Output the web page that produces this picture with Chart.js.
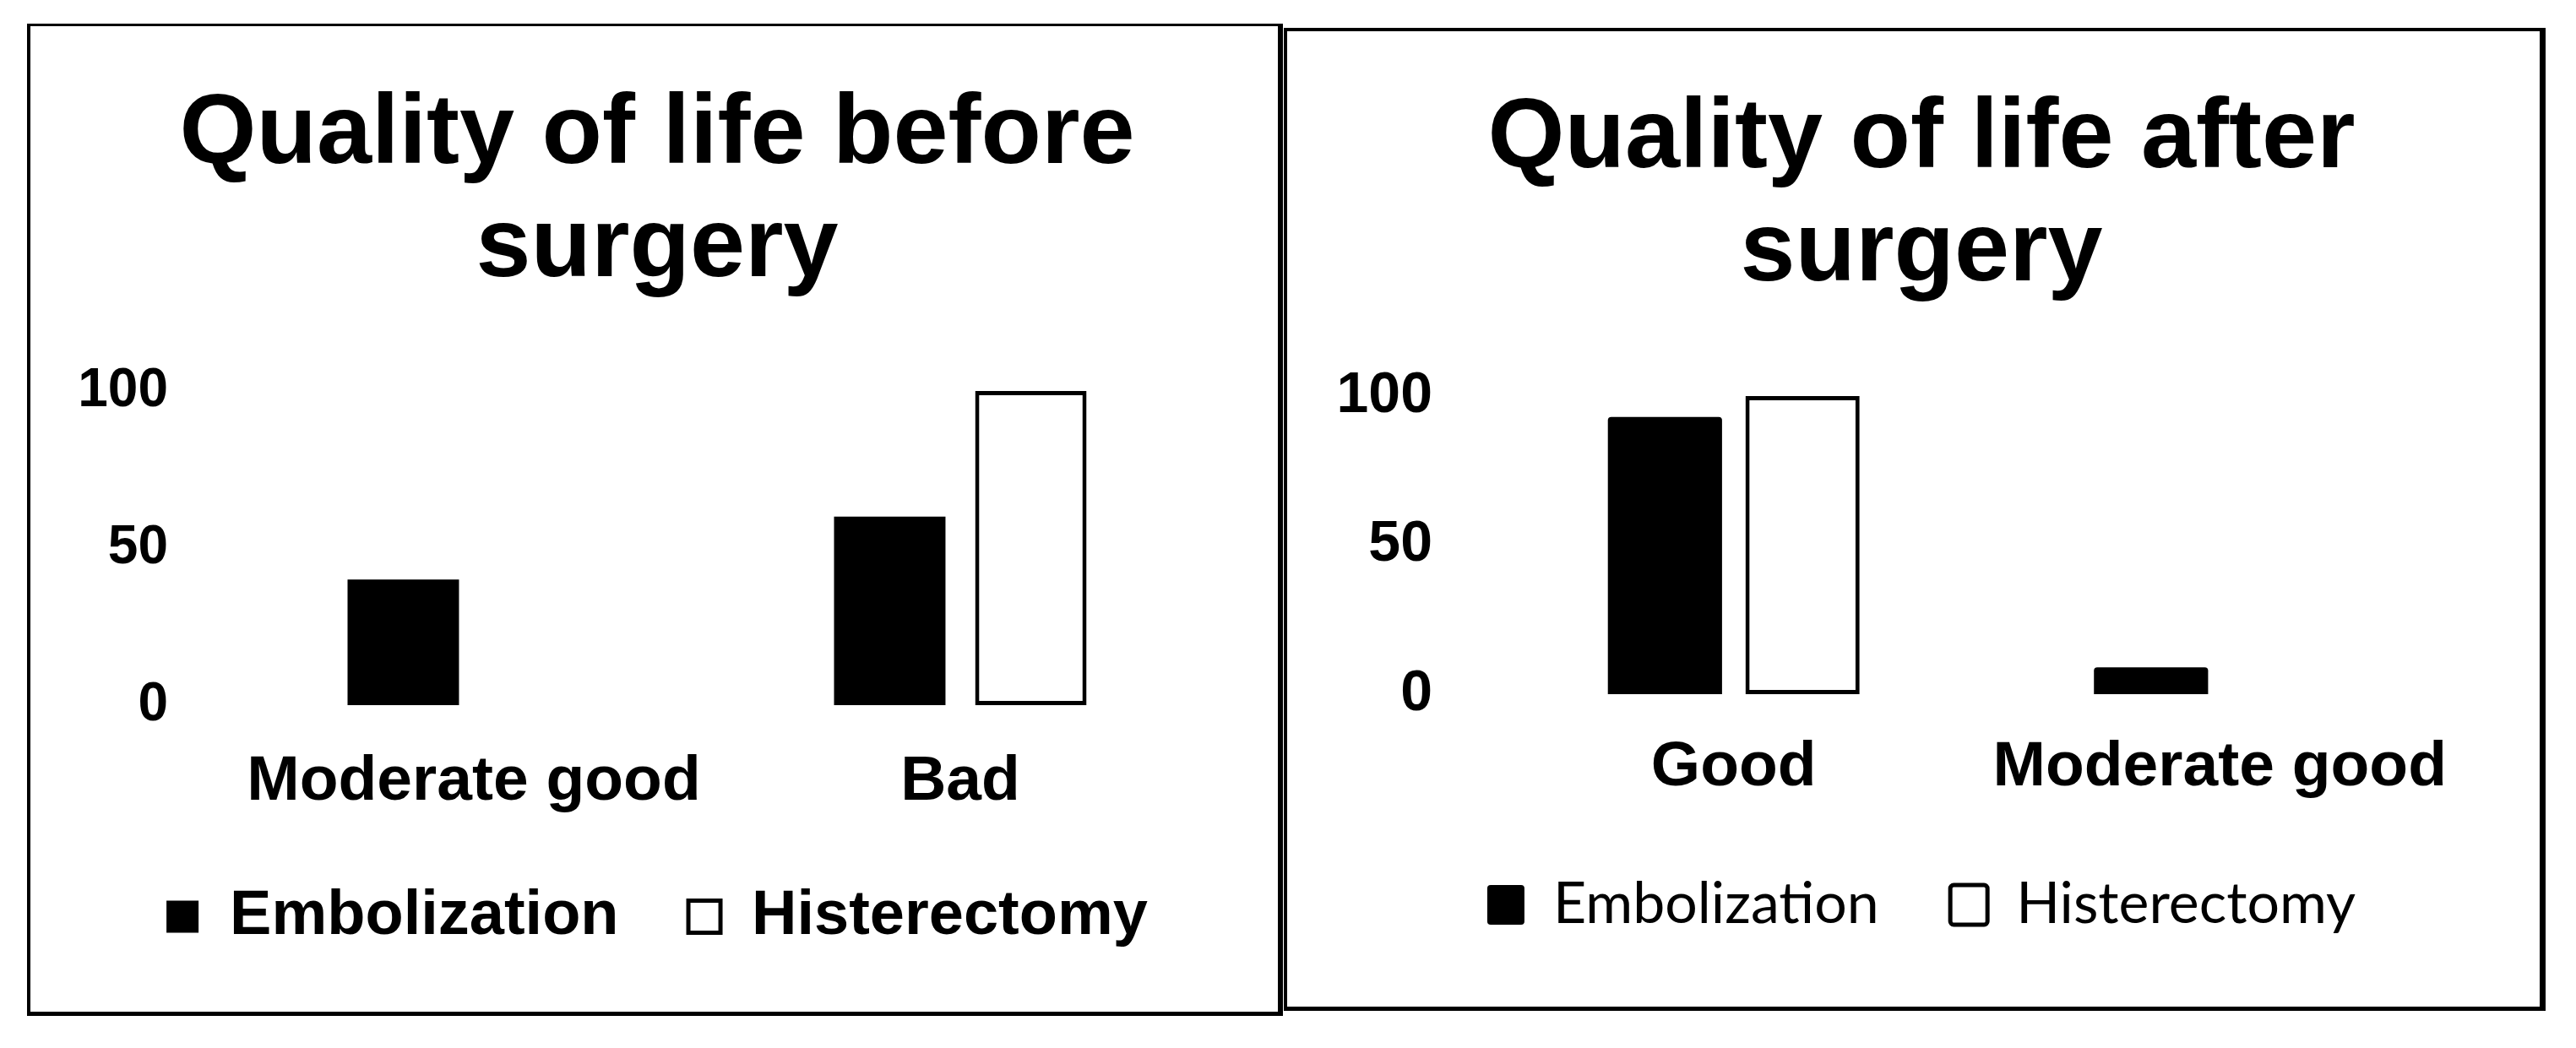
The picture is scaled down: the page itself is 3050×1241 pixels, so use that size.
<!DOCTYPE html>
<html>
<head>
<meta charset="utf-8">
<script src="https://cdn.jsdelivr.net/npm/chart.js@4.4.1/dist/chart.umd.min.js"></script>
<style>
    body { margin: 0; width: 3050px; height: 1241px; background: #fff; position: relative; overflow: hidden; }
    canvas { position: absolute; }
    .frame { position: absolute; border-style: solid; border-color: #000; box-sizing: border-box; pointer-events: none; }
</style>
</head>
<body>
<canvas id="beforeChart" width="1476" height="1168" style="left:36px;top:32px"></canvas>
<canvas id="afterChart" width="1482" height="1155" style="left:1524px;top:37px"></canvas>
<div class="frame" style="left:32px;top:28px;width:1487px;height:1175px;border-width:3px 6px 5px 4px"></div>
<div class="frame" style="left:1520px;top:33px;width:1494px;height:1164px;border-width:4px 7px 5px 4px"></div>
<script>
// Data
const seriesNames = ['Embolization', 'Histerectomy'];
const yTicks = [0, 50, 100];

const beforeCategories = ['Moderate good', 'Bad'];
const beforeEmbolization = [40, 60];
const beforeHisterectomy = [0, 100];

const afterCategories = ['Good', 'Moderate good'];
const afterEmbolization = [93, 9];
const afterHisterectomy = [100, 0];

Chart.defaults.color = '#000';
Chart.defaults.font.family = '"Liberation Sans", Arial, sans-serif';

function makeChart(id, cfg) {
    const ctx = document.getElementById(id).getContext('2d');
    return new Chart(ctx, {
        type: 'bar',
        data: {
            labels: cfg.categories,
            datasets: [{
                label: seriesNames[0],
                data: cfg.emb,
                backgroundColor: '#000',
                borderColor: '#000',
                borderWidth: 0,
                borderRadius: cfg.radius
            }, {
                label: seriesNames[1],
                // zero bars are not drawn in the original
                data: cfg.hist.map(v => v || null),
                backgroundColor: '#fff',
                borderColor: '#000',
                borderWidth: 5,
                borderSkipped: false,
                borderRadius: 0
            }]
        },
        options: {
            responsive: false,
            animation: false,
            devicePixelRatio: 1,
            categoryPercentage: cfg.catPct,
            barPercentage: cfg.barPct,
            layout: { padding: { left: cfg.padLeft, right: cfg.padRight, top: 0, bottom: cfg.padBottom } },
            plugins: {
                tooltip: { enabled: false },
                title: {
                    display: true,
                    text: cfg.title,
                    font: { size: 117, weight: 'bold', lineHeight: 1.145 },
                    padding: { top: 62, bottom: cfg.titleBottom }
                },
                legend: {
                    position: 'bottom',
                    labels: {
                        font: cfg.legendFont,
                        boxWidth: cfg.box[0],
                        boxHeight: cfg.box[1],
                        padding: cfg.legendPad,
                        useBorderRadius: cfg.radius > 0,
                        borderRadius: cfg.radius
                    }
                }
            },
            scales: {
                x: {
                    afterFit: s => { s.height = 131; },
                    grid: { display: false, drawTicks: false },
                    border: { display: false },
                    ticks: { font: { size: 75, weight: 'bold' }, padding: cfg.xPad, maxRotation: 0 }
                },
                y: {
                    min: 0,
                    max: 100,
                    afterFit: s => { s.width = cfg.yWidth; },
                    afterBuildTicks: s => { s.ticks = yTicks.map(v => ({ value: v })); },
                    grid: { display: false, drawTicks: false },
                    border: { display: false },
                    ticks: { font: { size: cfg.yFont, weight: 'bold' }, padding: cfg.yPad }
                },
                // empty right axis, only keeps the plot area in place
                yRight: {
                    position: 'right',
                    afterFit: s => { s.width = cfg.rightWidth; },
                    grid: { display: false, drawTicks: false },
                    border: { display: false },
                    ticks: { display: false }
                }
            }
        }
    });
}

makeChart('beforeChart', {
    title: ['Quality of life before', 'surgery'],
    categories: beforeCategories,
    emb: beforeEmbolization,
    hist: beforeHisterectomy,
    radius: 0,
    catPct: 0.58,
    barPct: 0.79,
    padLeft: 30,
    padRight: 22,
    padBottom: 67.5,
    yWidth: 207,
    rightWidth: 65,
    yPad: 74,
    yFont: 64,
    xPad: 46,
    titleBottom: 101,
    legendFont: { size: 74, weight: 'bold' },
    box: [38, 38],
    legendPad: 82.5
});

makeChart('afterChart', {
    title: ['Quality of life after', 'surgery'],
    categories: afterCategories,
    emb: afterEmbolization,
    hist: afterHisterectomy,
    radius: 4,
    catPct: 0.566,
    barPct: 0.83,
    padLeft: 50,
    padRight: 30,
    padBottom: 76.5,
    yWidth: 191,
    rightWidth: 60,
    yPad: 69,
    yFont: 68,
    xPad: 42,
    titleBottom: 102,
    legendFont: { size: 68, family: 'Lato', weight: 'normal' },
    box: [44, 47],
    legendPad: 84.5
});
</script>
</body>
</html>
